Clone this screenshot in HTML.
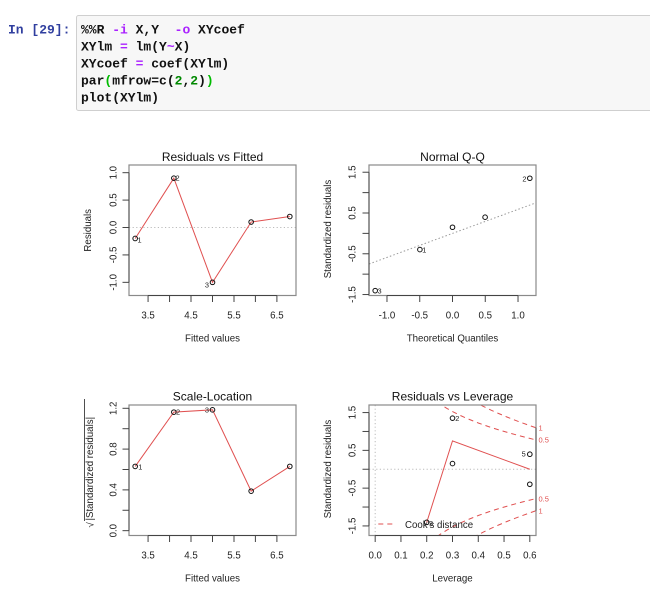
<!DOCTYPE html>
<html><head><meta charset="utf-8"><style>
html,body{margin:0;padding:0;background:#fff;}
svg{display:block;}
.m{font-family:"Liberation Mono",monospace;font-size:13px;font-weight:bold;white-space:pre;}
.s{font-family:"Liberation Sans","DejaVu Sans",sans-serif;fill:#222;}
</style></head><body>
<svg width="650" height="598" viewBox="0 0 650 598" xmlns="http://www.w3.org/2000/svg">
<rect width="650" height="598" fill="#fff"/>
<!-- code cell -->
<rect x="76.5" y="15.5" width="590" height="95" rx="2" fill="#f7f7f7" stroke="#cfcfcf"/>
<text class="m" x="8" y="33.5" fill="#303F9F">In [29]:</text>
<text class="m" x="81" y="33.5" fill="#111" xml:space="preserve">%%R <tspan fill="#AA22FF">-i</tspan> X,Y  <tspan fill="#AA22FF">-o</tspan> XYcoef</text>
<text class="m" x="81" y="50.5" fill="#111" xml:space="preserve">XYlm <tspan fill="#AA22FF">=</tspan> lm(Y<tspan fill="#AA22FF">~</tspan>X)</text>
<text class="m" x="81" y="67.5" fill="#111" xml:space="preserve">XYcoef <tspan fill="#AA22FF">=</tspan> coef(XYlm)</text>
<text class="m" x="81" y="84.5" fill="#111" xml:space="preserve">par<tspan fill="#00bb00">(</tspan>mfrow=c(<tspan fill="#008800">2</tspan>,<tspan fill="#008800">2</tspan>)<tspan fill="#00bb00">)</tspan></text>
<text class="m" x="81" y="101.5" fill="#111" xml:space="preserve">plot(XYlm)</text>

<defs><clipPath id="c4"><rect x="369" y="405" width="167" height="130.5"/></clipPath></defs>

<g class="s">
<!-- ============ Panel 1: Residuals vs Fitted ============ -->
<text x="212.5" y="161" font-size="12" text-anchor="middle" fill="#111">Residuals vs Fitted</text>
<line x1="129" y1="227.5" x2="296" y2="227.5" stroke="#bbb" stroke-dasharray="1.2 2.4"/>
<rect x="129" y="165" width="167" height="130.5" fill="none" stroke="#8a8a8a" stroke-width="1.2"/>
<g stroke="#444" stroke-width="1">
<line x1="148.07" y1="295.5" x2="276.9" y2="295.5"/>
<line x1="148.07" y1="295.5" x2="148.07" y2="302"/>
<line x1="169.55" y1="295.5" x2="169.55" y2="302"/>
<line x1="191" y1="295.5" x2="191" y2="302"/>
<line x1="212.5" y1="295.5" x2="212.5" y2="302"/>
<line x1="234" y1="295.5" x2="234" y2="302"/>
<line x1="255.4" y1="295.5" x2="255.4" y2="302"/>
<line x1="276.9" y1="295.5" x2="276.9" y2="302"/>
<line x1="129" y1="172.68" x2="129" y2="282.34"/>
<line x1="122.5" y1="172.68" x2="129" y2="172.68"/>
<line x1="122.5" y1="200.09" x2="129" y2="200.09"/>
<line x1="122.5" y1="227.51" x2="129" y2="227.51"/>
<line x1="122.5" y1="254.92" x2="129" y2="254.92"/>
<line x1="122.5" y1="282.34" x2="129" y2="282.34"/>
</g>
<g font-size="9.7" text-anchor="middle">
<text x="148.07" y="318.3">3.5</text>
<text x="191" y="318.3">4.5</text>
<text x="234" y="318.3">5.5</text>
<text x="276.9" y="318.3">6.5</text>
<text transform="translate(116.5,172.68) rotate(-90)">1.0</text>
<text transform="translate(116.5,200.09) rotate(-90)">0.5</text>
<text transform="translate(116.5,227.51) rotate(-90)">0.0</text>
<text transform="translate(116.5,254.92) rotate(-90)">-0.5</text>
<text transform="translate(116.5,282.34) rotate(-90)">-1.0</text>
<text x="212.5" y="341.7">Fitted values</text>
<text transform="translate(91,230.3) rotate(-90)">Residuals</text>
</g>
<polyline points="135.18,238.47 173.84,178.17 212.5,282.34 251.15,222.03 289.81,216.54" fill="none" stroke="#e05050" stroke-width="1"/>
<g fill="none" stroke="#111" stroke-width="1">
<circle cx="135.18" cy="238.47" r="2.3"/><circle cx="173.84" cy="178.17" r="2.3"/><circle cx="212.5" cy="282.34" r="2.3"/><circle cx="251.15" cy="222.03" r="2.3"/><circle cx="289.81" cy="216.54" r="2.3"/>
</g>
<g font-size="7.4">
<text x="137.5" y="242.7">1</text>
<text x="175.5" y="180.7">2</text>
<text x="209" y="287.3" text-anchor="end">3</text>
</g>

<!-- ============ Panel 2: Normal Q-Q ============ -->
<text x="452.5" y="161" font-size="12" text-anchor="middle" fill="#111">Normal Q-Q</text>
<line x1="369" y1="264.0" x2="536" y2="202.8" stroke="#999" stroke-dasharray="1.5 2.2"/>
<rect x="369" y="165" width="167" height="130.5" fill="none" stroke="#8a8a8a" stroke-width="1.2"/>
<g stroke="#444" stroke-width="1">
<line x1="386.98" y1="295.5" x2="518.02" y2="295.5"/>
<line x1="386.98" y1="295.5" x2="386.98" y2="302"/>
<line x1="419.74" y1="295.5" x2="419.74" y2="302"/>
<line x1="452.5" y1="295.5" x2="452.5" y2="302"/>
<line x1="485.26" y1="295.5" x2="485.26" y2="302"/>
<line x1="518.02" y1="295.5" x2="518.02" y2="302"/>
<line x1="369" y1="172.23" x2="369" y2="294.54"/>
<line x1="362.5" y1="172.23" x2="369" y2="172.23"/>
<line x1="362.5" y1="192.61" x2="369" y2="192.61"/>
<line x1="362.5" y1="212.99" x2="369" y2="212.99"/>
<line x1="362.5" y1="233.38" x2="369" y2="233.38"/>
<line x1="362.5" y1="253.77" x2="369" y2="253.77"/>
<line x1="362.5" y1="274.15" x2="369" y2="274.15"/>
<line x1="362.5" y1="294.54" x2="369" y2="294.54"/>
</g>
<g font-size="9.7" text-anchor="middle">
<text x="386.98" y="318.3">-1.0</text>
<text x="419.74" y="318.3">-0.5</text>
<text x="452.5" y="318.3">0.0</text>
<text x="485.26" y="318.3">0.5</text>
<text x="518.02" y="318.3">1.0</text>
<text transform="translate(355.5,172.23) rotate(-90)">1.5</text>
<text transform="translate(355.5,212.99) rotate(-90)">0.5</text>
<text transform="translate(355.5,253.77) rotate(-90)">-0.5</text>
<text transform="translate(355.5,294.54) rotate(-90)">-1.5</text>
<text x="452.5" y="341.5">Theoretical Quantiles</text>
<text transform="translate(331,229) rotate(-90)">Standardized residuals</text>
</g>
<g fill="none" stroke="#111" stroke-width="1">
<circle cx="375.2" cy="290.66" r="2.3"/><circle cx="419.9" cy="249.57" r="2.3"/><circle cx="452.5" cy="227.26" r="2.3"/><circle cx="485.1" cy="217.19" r="2.3"/><circle cx="529.8" cy="178.26" r="2.3"/>
</g>
<g font-size="7.4">
<text x="422.3" y="252.3">1</text>
<text x="526.5" y="181.5" text-anchor="end">2</text>
<text x="377.5" y="293.5">3</text>
</g>

<!-- ============ Panel 3: Scale-Location ============ -->
<text x="212.5" y="400.7" font-size="12" text-anchor="middle" fill="#111">Scale-Location</text>
<rect x="129" y="405" width="167" height="130.5" fill="none" stroke="#8a8a8a" stroke-width="1.2"/>
<g stroke="#444" stroke-width="1">
<line x1="148.07" y1="535.5" x2="276.9" y2="535.5"/>
<line x1="148.07" y1="535.5" x2="148.07" y2="542"/>
<line x1="169.55" y1="535.5" x2="169.55" y2="542"/>
<line x1="191" y1="535.5" x2="191" y2="542"/>
<line x1="212.5" y1="535.5" x2="212.5" y2="542"/>
<line x1="234" y1="535.5" x2="234" y2="542"/>
<line x1="255.4" y1="535.5" x2="255.4" y2="542"/>
<line x1="276.9" y1="535.5" x2="276.9" y2="542"/>
<line x1="129" y1="408.3" x2="129" y2="530.66"/>
<line x1="122.5" y1="530.66" x2="129" y2="530.66"/>
<line x1="122.5" y1="510.27" x2="129" y2="510.27"/>
<line x1="122.5" y1="489.88" x2="129" y2="489.88"/>
<line x1="122.5" y1="469.5" x2="129" y2="469.5"/>
<line x1="122.5" y1="449.1" x2="129" y2="449.1"/>
<line x1="122.5" y1="428.7" x2="129" y2="428.7"/>
<line x1="122.5" y1="408.3" x2="129" y2="408.3"/>
</g>
<g font-size="9.7" text-anchor="middle">
<text x="148.07" y="558.3">3.5</text>
<text x="191" y="558.3">4.5</text>
<text x="234" y="558.3">5.5</text>
<text x="276.9" y="558.3">6.5</text>
<text transform="translate(116.5,530.66) rotate(-90)">0.0</text>
<text transform="translate(116.5,489.88) rotate(-90)">0.4</text>
<text transform="translate(116.5,449.1) rotate(-90)">0.8</text>
<text transform="translate(116.5,408.3) rotate(-90)">1.2</text>
<text x="212.5" y="581.7">Fitted values</text>
</g>
<g font-size="9.7">
<text transform="translate(93.5,527.5) rotate(-90)">√</text>
<text transform="translate(93,520.5) rotate(-90)">|Standardized residuals|</text>
</g>
<line x1="84.5" y1="521" x2="84.5" y2="399" stroke="#222" stroke-width="0.8"/>
<polyline points="135.18,466.4 173.84,412.14 212.5,409.83 251.15,491.15 289.81,466.4" fill="none" stroke="#e05050" stroke-width="1"/>
<g fill="none" stroke="#111" stroke-width="1">
<circle cx="135.18" cy="466.4" r="2.3"/><circle cx="173.84" cy="412.14" r="2.3"/><circle cx="212.5" cy="409.83" r="2.3"/><circle cx="251.15" cy="491.15" r="2.3"/><circle cx="289.81" cy="466.4" r="2.3"/>
</g>
<g font-size="7.4">
<text x="138.3" y="469.3">1</text>
<text x="176" y="414.7">2</text>
<text x="209" y="412.7" text-anchor="end">3</text>
</g>

<!-- ============ Panel 4: Residuals vs Leverage ============ -->
<text x="452.5" y="400.7" font-size="12" text-anchor="middle" fill="#111">Residuals vs Leverage</text>
<line x1="375.18" y1="405" x2="375.18" y2="535.5" stroke="#bbb" stroke-dasharray="1.2 2.4"/>
<line x1="369" y1="469.25" x2="536" y2="469.25" stroke="#bbb" stroke-dasharray="1.2 2.4"/>
<g clip-path="url(#c4)" fill="none" stroke="#e05050" stroke-width="1" stroke-dasharray="5 4">
<polyline points="437.03,402.01 442.19,405.5 447.34,408.65 452.5,411.53 460.23,415.41 467.96,418.87 478.27,422.97 488.58,426.62 498.91,429.92 509.19,432.94 519.5,435.75 529.81,438.4 535.99,439.92"/>
<polyline points="437.03,536.49 442.19,533 447.34,529.85 452.5,526.97 460.23,523.09 467.96,519.63 478.27,515.53 488.58,511.88 498.91,508.58 509.19,505.56 519.5,502.75 529.81,500.1 535.99,498.58"/>
<polyline points="473.11,400.99 478.27,403.8 483.42,406.45 491.15,410.17 498.91,413.63 506.62,416.87 514.35,419.93 522.08,422.84 529.81,425.62 535.99,427.77"/>
<polyline points="473.11,537.51 478.27,534.7 483.42,532.05 491.15,528.33 498.91,524.87 506.62,521.63 514.35,518.57 522.08,515.66 529.81,512.88 535.99,510.73"/>
</g>
<rect x="369" y="405" width="167" height="130.5" fill="none" stroke="#8a8a8a" stroke-width="1.2"/>
<g stroke="#444" stroke-width="1">
<line x1="536" y1="427.77" x2="536" y2="510.73"/>
<line x1="375.18" y1="535.5" x2="529.81" y2="535.5"/>
<line x1="375.18" y1="535.5" x2="375.18" y2="542"/>
<line x1="400.95" y1="535.5" x2="400.95" y2="542"/>
<line x1="426.72" y1="535.5" x2="426.72" y2="542"/>
<line x1="452.5" y1="535.5" x2="452.5" y2="542"/>
<line x1="478.27" y1="535.5" x2="478.27" y2="542"/>
<line x1="504.04" y1="535.5" x2="504.04" y2="542"/>
<line x1="529.81" y1="535.5" x2="529.81" y2="542"/>
<line x1="369" y1="412.57" x2="369" y2="525.93"/>
<line x1="362.5" y1="412.57" x2="369" y2="412.57"/>
<line x1="362.5" y1="431.46" x2="369" y2="431.46"/>
<line x1="362.5" y1="450.36" x2="369" y2="450.36"/>
<line x1="362.5" y1="469.25" x2="369" y2="469.25"/>
<line x1="362.5" y1="488.14" x2="369" y2="488.14"/>
<line x1="362.5" y1="507.04" x2="369" y2="507.04"/>
<line x1="362.5" y1="525.93" x2="369" y2="525.93"/>
</g>
<g font-size="9.7" text-anchor="middle">
<text x="375.18" y="558.3">0.0</text>
<text x="400.95" y="558.3">0.1</text>
<text x="426.72" y="558.3">0.2</text>
<text x="452.5" y="558.3">0.3</text>
<text x="478.27" y="558.3">0.4</text>
<text x="504.04" y="558.3">0.5</text>
<text x="529.81" y="558.3">0.6</text>
<text transform="translate(355.5,412.57) rotate(-90)">1.5</text>
<text transform="translate(355.5,450.36) rotate(-90)">0.5</text>
<text transform="translate(355.5,488.14) rotate(-90)">-0.5</text>
<text transform="translate(355.5,525.93) rotate(-90)">-1.5</text>
<text x="452.5" y="581.7">Leverage</text>
<text transform="translate(331,469) rotate(-90)">Standardized residuals</text>
</g>
<g font-size="7.5" fill="#e05050" style="fill:#e05050">
<text x="538.5" y="430.5">1</text>
<text x="538.5" y="442.6">0.5</text>
<text x="538.5" y="501.3">0.5</text>
<text x="538.5" y="513.4">1</text>
</g>
<polyline points="426.72,522.34 452.5,440.87 529.81,469.25" fill="none" stroke="#e05050" stroke-width="1"/>
<g fill="none" stroke="#111" stroke-width="1">
<circle cx="529.81" cy="484.27" r="2.3"/><circle cx="452.5" cy="418.17" r="2.3"/><circle cx="426.72" cy="522.34" r="2.3"/><circle cx="452.5" cy="463.57" r="2.3"/><circle cx="529.81" cy="454.23" r="2.3"/>
</g>
<g font-size="7.4">
<text x="455.2" y="421">2</text>
<text x="525.8" y="456.5" text-anchor="end">5</text>
<text x="429" y="526">3</text>
</g>
<line x1="378.3" y1="524" x2="396" y2="524" stroke="#e05050" stroke-width="1" stroke-dasharray="5 4"/>
<text x="405" y="527.8" font-size="9.7">Cook's distance</text>
</g>
</svg>
</body></html>
